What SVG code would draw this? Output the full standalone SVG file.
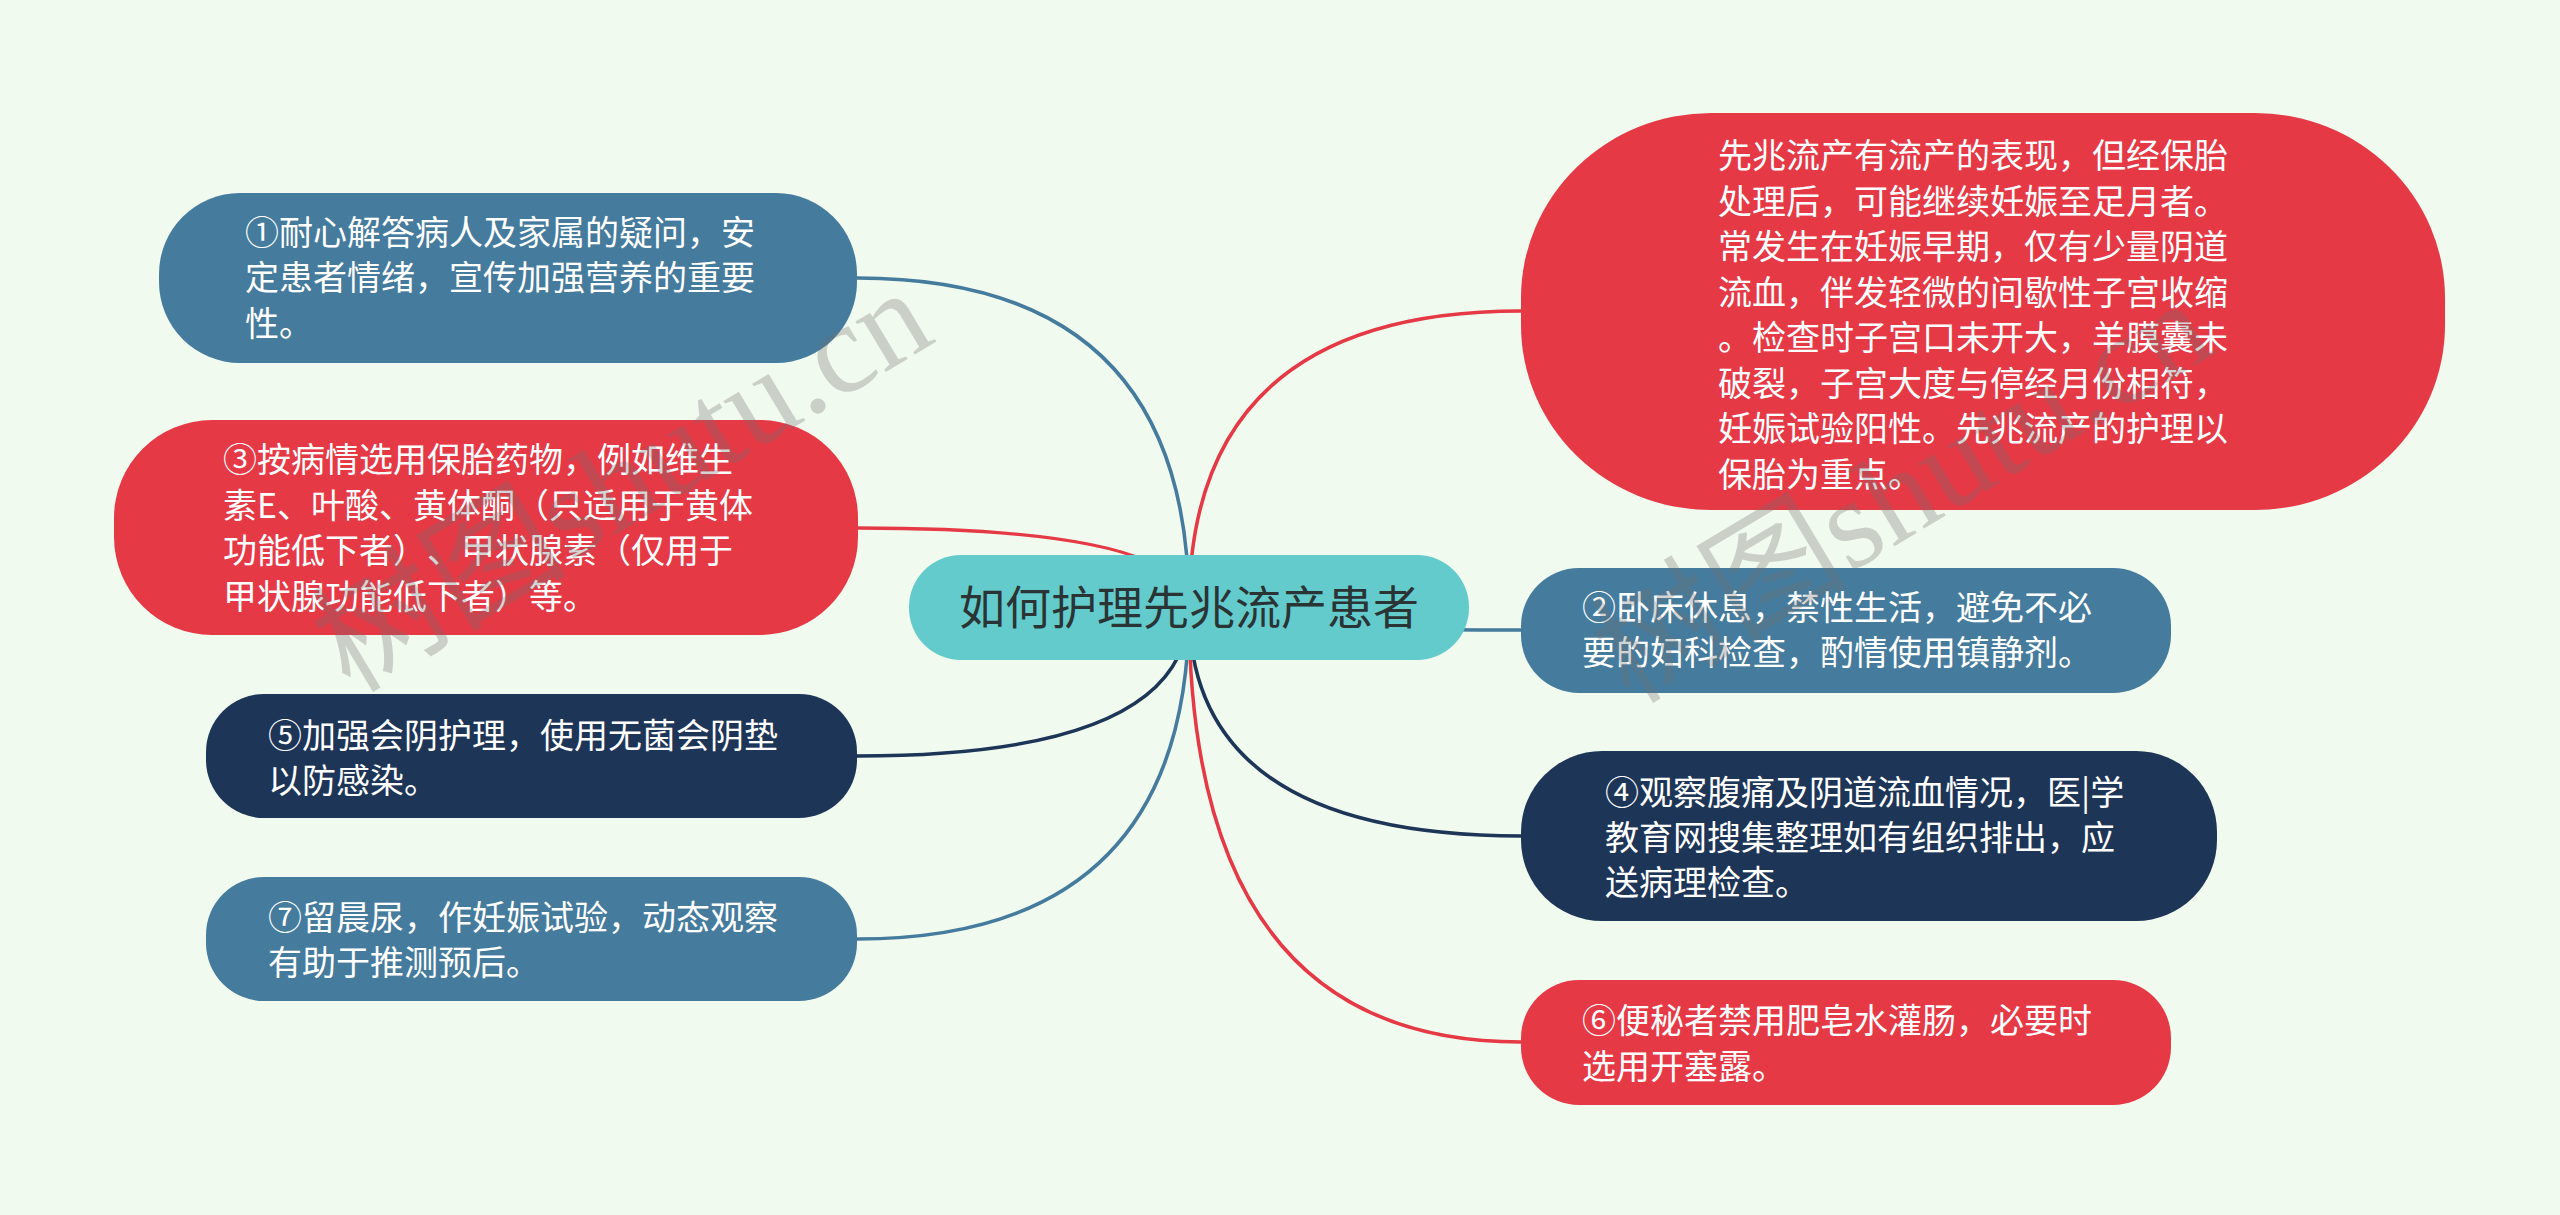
<svg xmlns="http://www.w3.org/2000/svg" width="2560" height="1215" viewBox="0 0 2560 1215">
<style>
.bg{fill:#F1FAEE}
.blue{fill:#457B9D}
.red{fill:#E63946}
.navy{fill:#1D3557}
.root{fill:#63CBCC}
text{text-spacing-trim:space-all}
.t{font-family:"Noto Sans CJK SC","Noto Sans",sans-serif;font-size:34px;fill:#FFFFFF}
.rt{font-family:"Noto Sans CJK SC","Noto Sans",sans-serif;font-size:46px;fill:#2A3434;text-anchor:middle}
.c{fill:none;stroke-width:3.5;stroke-linecap:round}
.cb{stroke:#457B9D}
.cr{stroke:#E63946}
.cn{stroke:#1D3557}
.wm{font-family:"Liberation Serif","Noto Sans CJK SC",serif;font-size:128px;fill:#707070;fill-opacity:0.3}
</style>
<rect class="bg" x="0" y="0" width="2560" height="1215"/>
<g id="connectors">
<path class="c cb" d="M857 278 Q1189 278 1189 608"/>
<path class="c cr" d="M858 528 Q1189 528 1189 608"/>
<path class="c cn" d="M857 756 Q1189 756 1189 608"/>
<path class="c cb" d="M857 939 Q1189 939 1189 608"/>
<path class="c cr" d="M1521 311 Q1189 311 1189 608"/>
<path class="c cb" d="M1521 630 Q1189 630 1189 608"/>
<path class="c cn" d="M1521 836 Q1189 836 1189 608"/>
<path class="c cr" d="M1521 1042 Q1189 1042 1189 608"/>
</g>
<g id="root">
<rect class="root" x="909" y="555" width="560" height="105" rx="52" ry="52"/>
<text class="rt" x="1189" y="624">如何护理先兆流产患者</text>
</g>
<g id="n1">
<rect class="blue" x="159" y="193" width="698" height="170" rx="81" ry="81"/>
<text class="t"><tspan x="245" y="245">①耐心解答病人及家属的疑问，安</tspan><tspan x="245" y="290">定患者情绪，宣传加强营养的重要</tspan><tspan x="245" y="336">性。</tspan></text>
</g>
<g id="n3">
<rect class="red" x="114" y="420" width="744" height="215" rx="98" ry="98"/>
<text class="t"><tspan x="223" y="472">③按病情选用保胎药物，例如维生</tspan><tspan x="223" y="518">素E、叶酸、黄体酮（只适用于黄体</tspan><tspan x="223" y="563">功能低下者）、甲状腺素（仅用于</tspan><tspan x="223" y="609">甲状腺功能低下者）等。</tspan></text>
</g>
<g id="n5">
<rect class="navy" x="206" y="694" width="651" height="124" rx="58" ry="58"/>
<text class="t"><tspan x="268" y="748">⑤加强会阴护理，使用无菌会阴垫</tspan><tspan x="268" y="793">以防感染。</tspan></text>
</g>
<g id="n7">
<rect class="blue" x="206" y="877" width="651" height="124" rx="58" ry="58"/>
<text class="t"><tspan x="268" y="930">⑦留晨尿，作妊娠试验，动态观察</tspan><tspan x="268" y="975">有助于推测预后。</tspan></text>
</g>
<g id="nbig">
<rect class="red" x="1521" y="113" width="924" height="397" rx="190" ry="185"/>
<text class="t"><tspan x="1718" y="168">先兆流产有流产的表现，但经保胎</tspan><tspan x="1718" y="213.5">处理后，可能继续妊娠至足月者。</tspan><tspan x="1718" y="259">常发生在妊娠早期，仅有少量阴道</tspan><tspan x="1718" y="304.5">流血，伴发轻微的间歇性子宫收缩</tspan><tspan x="1718" y="350">。检查时子宫口未开大，羊膜囊未</tspan><tspan x="1718" y="395.5">破裂，子宫大度与停经月份相符，</tspan><tspan x="1718" y="441">妊娠试验阳性。先兆流产的护理以</tspan><tspan x="1718" y="486.5">保胎为重点。</tspan></text>
</g>
<g id="n2">
<rect class="blue" x="1521" y="568" width="650" height="125" rx="58" ry="58"/>
<text class="t"><tspan x="1582" y="620">②卧床休息，禁性生活，避免不必</tspan><tspan x="1582" y="665">要的妇科检查，酌情使用镇静剂。</tspan></text>
</g>
<g id="n4">
<rect class="navy" x="1521" y="751" width="696" height="170" rx="81" ry="81"/>
<text class="t"><tspan x="1605" y="805">④观察腹痛及阴道流血情况，医|学</tspan><tspan x="1605" y="850">教育网搜集整理如有组织排出，应</tspan><tspan x="1605" y="895">送病理检查。</tspan></text>
</g>
<g id="n6">
<rect class="red" x="1521" y="980" width="650" height="125" rx="58" ry="58"/>
<text class="t"><tspan x="1582" y="1033">⑥便秘者禁用肥皂水灌肠，必要时</tspan><tspan x="1582" y="1079">选用开塞露。</tspan></text>
</g>
<g id="watermarks">
<text class="wm" transform="translate(350 694) rotate(-31)">树图shutu.cn</text>
<text class="wm" transform="translate(1630 705) rotate(-31)">树图shutu.cn</text>
</g>
</svg>
